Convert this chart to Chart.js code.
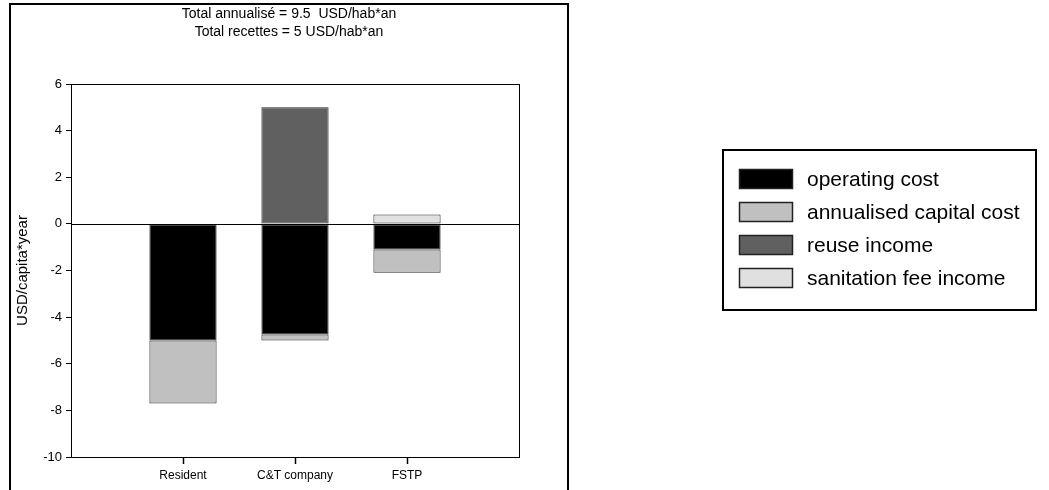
<!DOCTYPE html>
<html>
<head>
<meta charset="utf-8">
<script src="https://cdn.jsdelivr.net/npm/chart.js@4"></script>
<style>
  body { margin: 0; background: #fff; }
  #wrap { position: relative; width: 1049px; height: 490px; }
</style>
</head>
<body>
<div id="wrap"><canvas id="costChart" width="1049" height="490"></canvas></div>
<script>
// categories (empty slots at both ends leave the gaps seen in the plot)
const categories = ['', 'Resident', 'C&T company', 'FSTP', ''];
const operatingCost = [null, -5.0, -4.75, -1.1, null];
const capitalCost = [null, -2.7, -0.25, -1.0, null];
const reuseIncome = [null, 0, 5.0, 0, null];
const sanitationFee = [null, 0, 0, 0.4, null];
const seriesNames = ['operating cost', 'annualised capital cost', 'reuse income', 'sanitation fee income'];
const seriesColors = ['#000000', '#c0c0c0', '#606060', '#e0e0e0'];
const titleLines = ['Total annualisé = 9.5  USD/hab*an', 'Total recettes = 5 USD/hab*an'];
const yTitle = 'USD/capita*year';

const FONT = 'Arial, "Liberation Sans", sans-serif';

// frame, title, plot box, zero line, x tick marks and legend box
const decor = {
  id: 'decor',
  afterDraw(chart) {
    const c = chart.ctx;
    const a = chart.chartArea;
    const y = chart.scales.y;
    const x = chart.scales.x;
    c.save();
    // outer frame
    c.strokeStyle = '#000';
    c.lineWidth = 2;
    c.strokeRect(10, 4, 558, 500);
    // plot box
    c.lineWidth = 1;
    c.strokeRect(Math.round(a.left) + 0.5, Math.round(a.top) + 0.5, Math.round(a.right - a.left), Math.round(a.bottom - a.top));
    // zero line
    const y0 = Math.round(y.getPixelForValue(0)) + 0.5;
    c.beginPath();
    c.moveTo(a.left, y0);
    c.lineTo(a.right, y0);
    c.stroke();
    // x tick marks under the named categories
    c.beginPath();
    c.lineWidth = 1.5;
    categories.forEach((lab, i) => {
      if (!lab) return;
      const px = Math.round(x.getPixelForValue(i)) + 0.5;
      c.moveTo(px, a.bottom);
      c.lineTo(px, a.bottom + 7);
    });
    c.stroke();
    // title
    c.fillStyle = '#000';
    c.font = '14px ' + FONT;
    c.textAlign = 'center';
    c.textBaseline = 'middle';
    c.fillText(titleLines[0], 289, 14);
    c.fillText(titleLines[1], 289, 32);
    // legend
    c.lineWidth = 2;
    c.strokeRect(723, 150, 313, 160);
    c.font = '21px ' + FONT;
    c.textAlign = 'left';
    chart.data.datasets.forEach((ds, i) => {
      const cy = 179 + i * 33;
      c.fillStyle = ds.backgroundColor;
      c.fillRect(739, cy - 10, 54, 20);
      c.lineWidth = 1.5;
      c.strokeStyle = '#222';
      c.strokeRect(739.5, cy - 9.5, 53, 19);
      c.fillStyle = '#000';
      c.fillText(ds.label, 807, cy + 1);
    });
    c.restore();
  }
};

const series = [operatingCost, capitalCost, reuseIncome, sanitationFee];

new Chart(document.getElementById('costChart'), {
  type: 'bar',
  data: {
    labels: categories,
    datasets: series.map((d, i) => ({
      label: seriesNames[i],
      data: d,
      backgroundColor: seriesColors[i],
      borderColor: '#2a2a2a',
      borderWidth: 1,
      borderSkipped: false,
      categoryPercentage: 1.0,
      barPercentage: 0.6
    }))
  },
  options: {
    responsive: false,
    animation: false,
    layout: { padding: { left: 10, top: 84, right: 530, bottom: 0 } },
    plugins: {
      legend: { display: false },
      tooltip: { enabled: false }
    },
    scales: {
      x: {
        stacked: true,
        offset: false,
        grid: { display: false },
        border: { display: true, color: '#000' },
        ticks: { color: '#000', font: { family: FONT, size: 12 }, maxRotation: 0, autoSkip: false, padding: 3 },
        afterFit: (s) => { s.height = 33; }
      },
      y: {
        stacked: true,
        min: -10,
        max: 6,
        grid: { drawOnChartArea: false, tickLength: 5, tickColor: '#000' },
        border: { display: true, color: '#000' },
        ticks: { stepSize: 2, color: '#000', font: { family: FONT, size: 13 }, padding: 4 },
        title: { display: true, text: yTitle, color: '#000', font: { family: FONT, size: 15 }, padding: { top: 4, bottom: 0 } },
        afterFit: (s) => { s.width = 61; }
      }
    }
  },
  plugins: [decor]
});
</script>
</body>
</html>
